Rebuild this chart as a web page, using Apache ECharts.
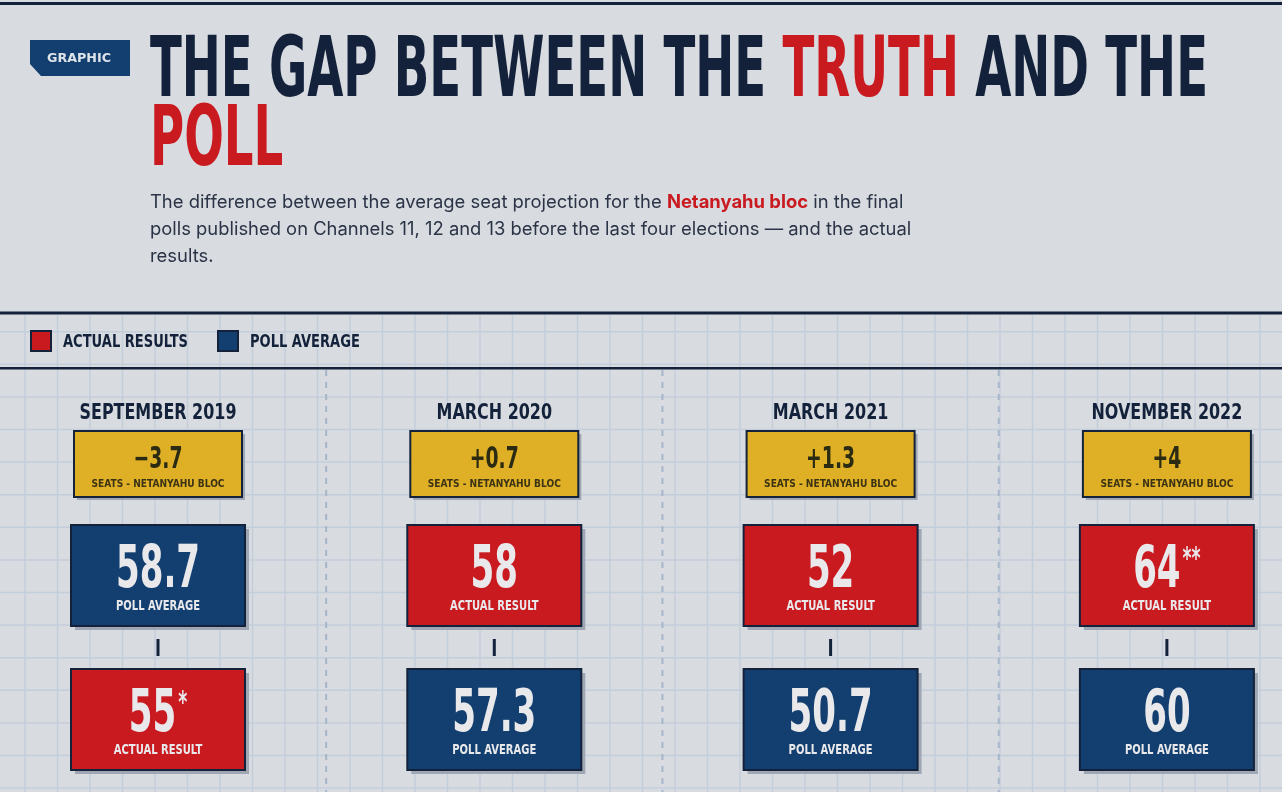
<!doctype html>
<html>
<head>
<meta charset="utf-8">
<title>The gap between the truth and the poll</title>
<script src="https://cdn.jsdelivr.net/npm/echarts@6.0.0/dist/echarts.min.js"></script>
<style>
  html, body { margin: 0; padding: 0; background: #d8dbe0; }
  #chart { width: 1282px; height: 792px; }
</style>
</head>
<body>
<div id="chart"></div>
<script>
// data
var elections = ['SEPTEMBER 2019', 'MARCH 2020', 'MARCH 2021', 'NOVEMBER 2022'];
var pollAverage = [58.7, 57.3, 50.7, 60];
var actualResult = [55, 58, 52, 64];
var actualNote = ['*', '', '', '**'];
var legendNames = ['ACTUAL RESULTS', 'POLL AVERAGE'];

var RED = '#c91a20', BLUE = '#123f6f', GOLD = '#dfb025', INK = '#13223a';
var SHADOW = '#9ea7b3', GRIDLINE = '#c3cedb', LIGHT = '#e9e9ec';
var COND = "'Liberation Sans Narrow', 'DejaVu Sans Condensed', Roboto, sans-serif";
var SANS = "Inter, 'Noto Sans', sans-serif";

// measure text so the condensed lettering lands at the reference widths
var ctx = document.createElement('canvas').getContext('2d');
function textWidth(str, font) { ctx.font = font; return ctx.measureText(str).width; }
function fit(str, font, w) { return w / textWidth(str, font); }

var BIG = 'bold 59px ' + COND, NOTE = 'bold 30px ' + COND;
var titleScale = fit('THE GAP BETWEEN THE TRUTH AND THE', 'bold 84px ' + COND, 1058);
var badgeScale = fit('GRAPHIC', 'bold 13px ' + COND, 64);
var legendScale = fit('ACTUAL RESULTS', 'bold 17px ' + COND, 125);
var headScale = fit('SEPTEMBER 2019', 'bold 21px ' + COND, 157);
var diffScale = fit('\u22123.7', 'bold 30px ' + COND, 49);
var seatsScale = fit('SEATS - NETANYAHU BLOC', 'bold 11px ' + COND, 133);
var bigScale = fit('58.7', BIG, 84);
var labelScale = fit('POLL AVERAGE', 'bold 14px ' + COND, 84);

var sub1a = 'The difference between the average seat projection for the ';
var sub1b = 'Netanyahu bloc';
var sub1c = ' in the final';
var subSize = 17 * 754 / (textWidth(sub1a + sub1c, '17px ' + SANS) + textWidth(sub1b, 'bold 17px ' + SANS));

function fmtDiff(d) {
  d = Math.round(d * 10) / 10;
  return (d < 0 ? '\u2212' : '+') + Math.abs(d);
}

var rows = elections.map(function (e, i) { return [i, pollAverage[i], actualResult[i]]; });

function label(x, y, text, scale, font, fill, align) {
  return {
    type: 'text', x: x, y: y, scaleX: scale,
    style: { text: text, font: font, fill: fill, align: align || 'center', verticalAlign: 'middle' }
  };
}

function card(cx, top, box, kids) {
  var w = 174, h = 101;
  kids.push({ type: 'rect', shape: { x: cx - w / 2 + 4, y: top + 4, width: w, height: h }, style: { fill: SHADOW } });
  kids.push({ type: 'rect', shape: { x: cx - w / 2, y: top, width: w, height: h }, style: { fill: box.fill, stroke: INK, lineWidth: 2 } });
  // number and its footnote mark are centred together
  var num = String(box.value);
  var wNum = textWidth(num, BIG) * bigScale;
  var wNote = box.note ? textWidth(box.note, NOTE) * bigScale + 2 : 0;
  var left = cx - (wNum + wNote) / 2;
  var ny = top + 47;
  kids.push(label(left + wNum / 2, ny, num, bigScale, BIG, LIGHT));
  if (box.note) kids.push(label(left + wNum + 2, ny - 12, box.note, bigScale, NOTE, LIGHT, 'left'));
  kids.push(label(cx, top + 81, box.label, labelScale, 'bold 14px ' + COND, LIGHT));
}

function renderColumn(params, api) {
  var i = api.value(0);
  var cx = api.coord([i, 0])[0];
  var band = api.size([1, 0])[0];
  var poll = api.value(1), act = api.value(2);
  var kids = [];
  if (i > 0) {
    kids.push({
      type: 'line', shape: { x1: cx - band / 2, y1: 370, x2: cx - band / 2, y2: 792 },
      style: { stroke: '#a6b6c9', lineWidth: 2, lineDash: [6, 6] }
    });
  }
  kids.push(label(cx, 414, elections[i], headScale, 'bold 21px ' + COND, INK));
  // difference box
  kids.push({ type: 'rect', shape: { x: cx - 84 + 3, y: 431 + 3, width: 168, height: 66 }, style: { fill: SHADOW } });
  kids.push({ type: 'rect', shape: { x: cx - 84, y: 431, width: 168, height: 66 }, style: { fill: GOLD, stroke: INK, lineWidth: 2 } });
  kids.push(label(cx, 460, fmtDiff(act - poll), diffScale, 'bold 30px ' + COND, '#2b2a12'));
  kids.push(label(cx, 484, 'SEATS - NETANYAHU BLOC', seatsScale, 'bold 11px ' + COND, '#3b3314'));

  var actualBox = { fill: RED, value: act, note: actualNote[i], label: 'ACTUAL RESULT' };
  var pollBox = { fill: BLUE, value: poll, note: '', label: 'POLL AVERAGE' };
  var order = act > poll ? [actualBox, pollBox] : [pollBox, actualBox];
  card(cx, 525, order[0], kids);
  kids.push({ type: 'rect', shape: { x: cx - 1.5, y: 639, width: 3, height: 17 }, style: { fill: INK } });
  card(cx, 669, order[1], kids);
  return { type: 'group', children: kids };
}

// background: graph-paper grid and rules
var deco = [];
for (var gx = 25; gx < 1282; gx += 32.5) {
  deco.push({ type: 'line', shape: { x1: gx, y1: 315, x2: gx, y2: 792 }, style: { stroke: GRIDLINE, lineWidth: 1.5 }, z: 0 });
}
for (var gy = 331.7; gy < 792; gy += 32.6) {
  deco.push({ type: 'line', shape: { x1: 0, y1: gy, x2: 1282, y2: gy }, style: { stroke: GRIDLINE, lineWidth: 1.5 }, z: 0 });
}
deco.push({ type: 'rect', shape: { x: 0, y: 2, width: 1282, height: 3 }, style: { fill: INK } });
deco.push({ type: 'rect', shape: { x: 0, y: 311.5, width: 1282, height: 3 }, style: { fill: INK } });
deco.push({ type: 'rect', shape: { x: 0, y: 367, width: 1282, height: 2.5 }, style: { fill: INK } });

// badge
deco.push({ type: 'polygon', shape: { points: [[30, 40], [130, 40], [130, 76], [41, 76], [30, 64]] }, style: { fill: BLUE } });
deco.push({ type: 'text', x: 79, y: 59, scaleX: badgeScale,
  style: { text: 'GRAPHIC', font: 'bold 13px ' + COND, fill: '#dfe3ea', align: 'center', verticalAlign: 'middle' } });

// title
var titleRich = {
  a: { fontFamily: COND, fontWeight: 'bold', fontSize: 84, fill: INK },
  r: { fontFamily: COND, fontWeight: 'bold', fontSize: 84, fill: RED }
};
deco.push({ type: 'text', x: 150, y: 74, scaleX: titleScale,
  style: { text: '{a|THE GAP BETWEEN THE }{r|TRUTH}{a| AND THE}', rich: titleRich, align: 'left', verticalAlign: 'middle' } });
deco.push({ type: 'text', x: 150, y: 143, scaleX: titleScale,
  style: { text: '{r|POLL}', rich: titleRich, align: 'left', verticalAlign: 'middle' } });

// subtitle
var subRich = {
  n: { fontFamily: SANS, fontSize: subSize, fill: '#2b3446', lineHeight: 27 },
  b: { fontFamily: SANS, fontSize: subSize, fontWeight: 'bold', fill: RED, lineHeight: 27 }
};
deco.push({ type: 'text', x: 150, y: 188.5,
  style: {
    text: '{n|' + sub1a + '}{b|' + sub1b + '}{n|' + sub1c + '}\n' +
          '{n|polls published on Channels 11, 12 and 13 before the last four elections \u2014 and the actual}\n' +
          '{n|results.}',
    rich: subRich, align: 'left', verticalAlign: 'top'
  } });

// legend
[[RED, 31], [BLUE, 218]].forEach(function (l, k) {
  deco.push({ type: 'rect', shape: { x: l[1], y: 331, width: 20, height: 20 }, style: { fill: l[0], stroke: INK, lineWidth: 2 } });
  deco.push({ type: 'text', x: l[1] + 32, y: 342.5, scaleX: legendScale,
    style: { text: legendNames[k], font: 'bold 17px ' + COND, fill: INK, align: 'left', verticalAlign: 'middle' } });
});

// columns sit 336px apart starting at x=158; index axis spans the full width
var colStep = 336.3, firstCol = 158;

var chart = echarts.init(document.getElementById('chart'), null, { renderer: 'canvas' });
chart.setOption({
  backgroundColor: '#d8dbe0',
  animation: false,
  graphic: { elements: deco },
  grid: { left: 0, right: 0, top: 370, bottom: 0 },
  xAxis: { type: 'value', show: false, min: -firstCol / colStep, max: (1282 - firstCol) / colStep },
  yAxis: { type: 'value', show: false, min: 0, max: 100 },
  series: [{
    type: 'custom',
    clip: false,
    z: 5,
    encode: { x: 0, y: 1 },
    data: rows,
    renderItem: renderColumn
  }]
});
</script>
</body>
</html>
